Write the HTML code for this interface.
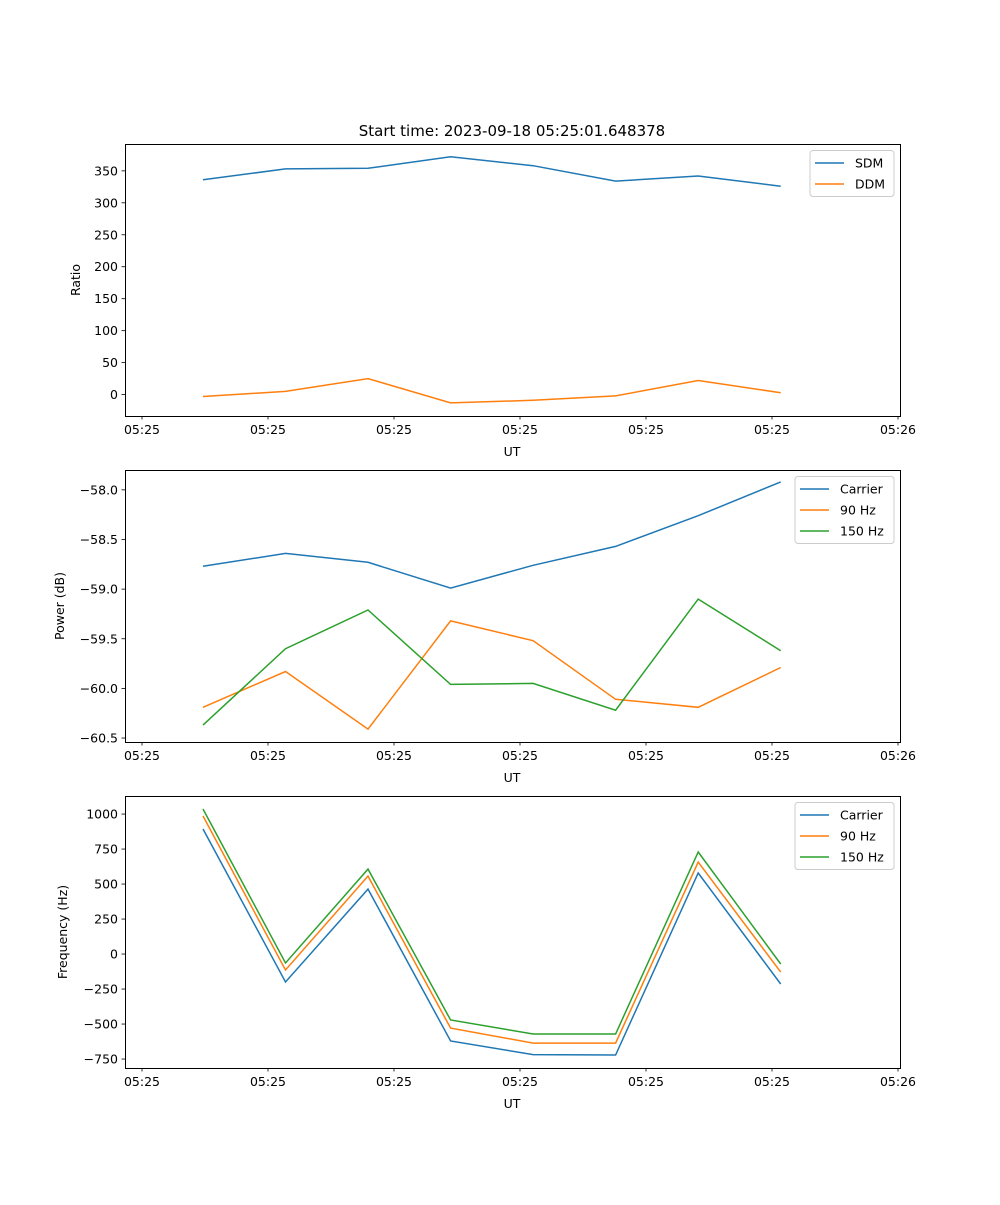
<!DOCTYPE html>
<html><head><meta charset="utf-8"><style>
body{margin:0;background:#fff}
svg text{font-family:"DejaVu Sans","Liberation Sans",sans-serif;font-size:12.5px;fill:#000}
</style></head><body>
<svg id="fig" width="1000" height="1200" xmlns="http://www.w3.org/2000/svg">
<rect width="1000" height="1200" fill="#fff"/>
<text x="512" y="136" text-anchor="middle" style="font-size:15px">Start time: 2023-09-18 05:25:01.648378</text>
</svg>
<script>
// time in seconds after 05:25:00
const times = [4.84, 11.39, 17.94, 24.49, 31.04, 37.59, 44.14, 50.69];
const xTickVals = [0, 10, 20, 30, 40, 50, 60];
const xTickLabels = ["05:25","05:25","05:25","05:25","05:25","05:25","05:26"];

const sdm = [336, 353, 354, 372, 358, 334, 342, 326];
const ddm = [-3, 5, 25, -13, -9, -2, 22, 3];
const ratioTicks = [0, 50, 100, 150, 200, 250, 300, 350];

const powCarrier = [-58.77, -58.64, -58.73, -58.99, -58.76, -58.57, -58.26, -57.92];
const pow90 = [-60.19, -59.83, -60.41, -59.32, -59.52, -60.11, -60.19, -59.79];
const pow150 = [-60.37, -59.60, -59.21, -59.96, -59.95, -60.22, -59.10, -59.62];
const powTicks = [-60.5, -60.0, -59.5, -59.0, -58.5, -58.0];

const freqCarrier = [893, -200, 464, -621, -718, -721, 579, -214];
const freq90 = [986, -114, 557, -529, -636, -636, 657, -129];
const freq150 = [1036, -64, 607, -471, -571, -571, 729, -71];
const freqTicks = [-750, -500, -250, 0, 250, 500, 750, 1000];

const NS = "http://www.w3.org/2000/svg";
const svg = document.getElementById('fig');
function el(tag, attrs, parent){const e=document.createElementNS(NS,tag);for(const k in attrs)e.setAttribute(k,attrs[k]);(parent||svg).appendChild(e);return e;}

const L=125,R=900;
const xS = t => 142 + t*12.6;

function panel(name, top, bottom, ymin, ymax, yticks, fmt, ylabel, series, legendX, legendW){
  const g = el('g',{});
  
  
  const yS = v => bottom - (v-ymin)/(ymax-ymin)*(bottom-top);
  series.forEach(s=>{
    const d = s.vals.map((v,i)=>(i?'L':'M')+xS(times[i]).toFixed(1)+','+yS(v).toFixed(1)).join('');
    const p = el('path',{d:d,fill:'none',stroke:s.color,'stroke-width':1.5},g);
    
    
  });
  const fr = el('rect',{x:L+0.5,y:top+0.5,width:R-L,height:bottom-top,fill:'none',stroke:'#000','stroke-width':1},g);
  
  
  xTickVals.forEach((t,i)=>{
    const x=xS(t);
    el('line',{x1:x,x2:x,y1:bottom,y2:bottom+3.5,stroke:'#000','stroke-width':0.8},g);
    const tx=el('text',{x:x,y:bottom+18,'text-anchor':'middle'},g);
    tx.textContent=xTickLabels[i];
    
    
  });
  const xl=el('text',{x:512,y:bottom+40,'text-anchor':'middle'},g);
  xl.textContent='UT';
  
  
  yticks.forEach(v=>{
    const y=yS(v);
    el('line',{x1:L-3.5,x2:L,y1:y,y2:y,stroke:'#000','stroke-width':0.8},g);
    const tx=el('text',{x:L-7,y:y+4.5,'text-anchor':'end'},g);
    tx.textContent=fmt(v);
    
    
  });
  const yl=el('text',{x:0,y:0,'text-anchor':'middle',transform:`translate(${ylabel.x},${(top+bottom)/2}) rotate(-90)`},g);
  yl.textContent=ylabel.text;
  
  
  const lg=el('g',{},g);
  
  
  el('rect',{x:legendX,y:top+6.5,width:legendW,height:series.length*21+4,rx:3,fill:'#fff',stroke:'#ccc','stroke-width':1},lg);
  series.forEach((s,i)=>{
    const y=top+19+i*21;
    el('line',{x1:legendX+5,x2:legendX+34,y1:y,y2:y,stroke:s.color,'stroke-width':1.5},lg);
    const t=el('text',{x:legendX+45,y:y+4.5},lg);
    t.textContent=s.label;
    
    
  });
}

panel('ratio',144,416,-33.5,392,ratioTicks,v=>String(v),{x:80,text:'Ratio'},
  [{key:'sdm',label:'SDM',vals:sdm,color:'#1f77b4'},{key:'ddm',label:'DDM',vals:ddm,color:'#ff7f0e'}],810,84);
panel('power',470,742,-60.54,-57.8,powTicks,v=>'\u2212'+Math.abs(v).toFixed(1),{x:64,text:'Power (dB)'},
  [{key:'carrier',label:'Carrier',vals:powCarrier,color:'#1f77b4'},{key:'90hz',label:'90 Hz',vals:pow90,color:'#ff7f0e'},{key:'150hz',label:'150 Hz',vals:pow150,color:'#2ca02c'}],795,99);
panel('frequency',796,1068,-814,1129,freqTicks,v=>v<0?'\u2212'+Math.abs(v):String(v),{x:67,text:'Frequency (Hz)'},
  [{key:'carrier',label:'Carrier',vals:freqCarrier,color:'#1f77b4'},{key:'90hz',label:'90 Hz',vals:freq90,color:'#ff7f0e'},{key:'150hz',label:'150 Hz',vals:freq150,color:'#2ca02c'}],795,99);
</script>
</body></html>
